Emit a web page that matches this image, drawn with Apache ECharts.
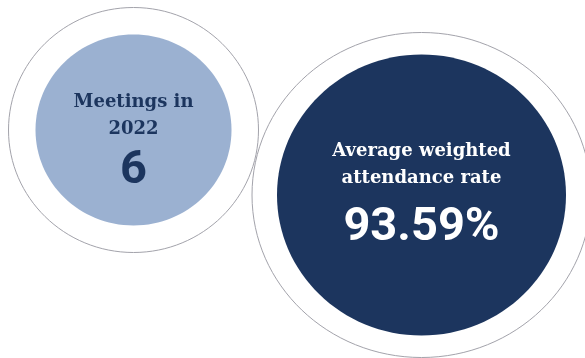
<!DOCTYPE html>
<html>
<head>
<meta charset="utf-8">
<script src="https://cdn.jsdelivr.net/npm/echarts@6/dist/echarts.min.js"></script>
<style>
html,body{margin:0;padding:0;background:#fff;}
#c{width:585px;height:358px;}
</style>
</head>
<body>
<div id="c"></div>
<script>
// Data
const labels = ['Meetings in\n2022', 'Average weighted\nattendance rate'];
const values = [6, 93.59];
const units = ['', '%'];

const fills = ['#9bb1d1', '#1c355e'];
const labelColors = ['#1c355e', '#ffffff'];

// layout (decorative circles)
const layout = [
  {cx: 133.5, cy: 130, ringRx: 125, ringRy: 122.5, rx: 98, ry: 95.5, titleY: 116, valueY: 171},
  {cx: 421.5, cy: 195, ringRx: 169.5, ringRy: 162.5, rx: 144.5, ry: 140.5, titleY: 165, valueY: 228}
];

const chart = echarts.init(document.getElementById('c'), null, {renderer: 'canvas'});
const elements = [];
layout.forEach((L, i) => {
  elements.push({
    type: 'ellipse', z: 1,
    shape: {cx: L.cx, cy: L.cy, rx: L.ringRx, ry: L.ringRy},
    style: {fill: null, stroke: '#a3a3ab', lineWidth: 1}
  });
});
layout.forEach((L, i) => {
  elements.push({
    type: 'ellipse', z: 2,
    shape: {cx: L.cx, cy: L.cy, rx: L.rx, ry: L.ry},
    style: {fill: fills[i]}
  });
  elements.push({
    type: 'text', z: 3, x: L.cx, y: L.titleY,
    style: {
      text: labels[i], fill: labelColors[i],
      font: 'bold 18px "DejaVu Serif", serif',
      align: 'center', verticalAlign: 'middle', lineHeight: 27
    }
  });
  elements.push({
    type: 'text', z: 3, x: L.cx, y: L.valueY,
    style: {
      text: String(values[i]) + units[i], fill: labelColors[i],
      font: 'bold 47px Roboto, sans-serif',
      align: 'center', verticalAlign: 'middle'
    }
  });
});

chart.setOption({
  backgroundColor: '#ffffff',
  animation: false,
  graphic: {elements: elements}
});
</script>
</body>
</html>
